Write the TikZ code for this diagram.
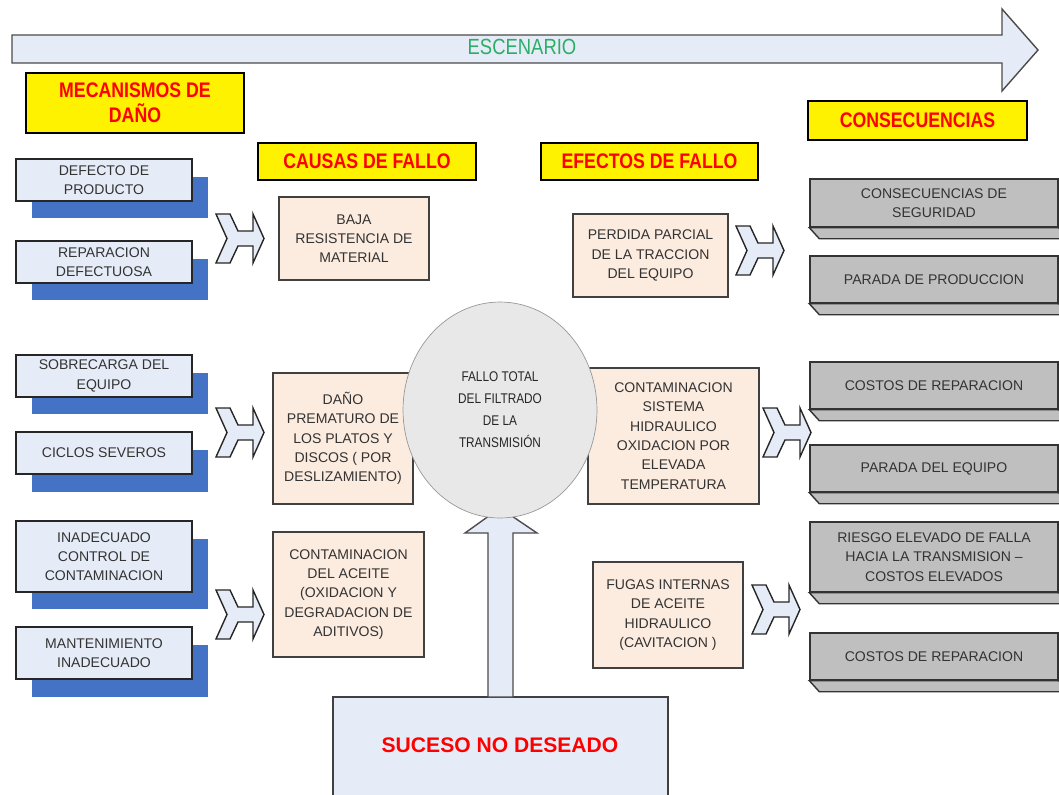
\documentclass[tikz,border=0pt]{standalone}
\usepackage{fontspec}
\setmainfont{Liberation Sans}
\newfontfamily\narrowfont[FakeStretch=0.84]{Liberation Sans}
\usetikzlibrary{shapes.geometric,shadows}

\definecolor{boxblue}{HTML}{E6ECF7}
\definecolor{shadowblue}{HTML}{4472C4}
\definecolor{peach}{HTML}{FCEBDF}
\definecolor{boxgray}{HTML}{BFBFBF}
\definecolor{ringgray}{HTML}{E8E8E8}
\definecolor{scenegreen}{HTML}{2BAE66}
\definecolor{txtgray}{HTML}{333333}

\newcommand{\boxfont}{\fontsize{8}{11}\selectfont}

\tikzset{
  header/.style={draw=black, line width=1.6pt, fill=yellow, text=red, align=center,
    inner sep=0pt, font=\narrowfont\bfseries\fontsize{12}{14}\selectfont},
  mech/.style={draw=black!85, line width=0.8pt, fill=boxblue, text=txtgray, align=center,
    inner sep=0pt, minimum width=3.52cm, font=\boxfont,
    general shadow={fill=shadowblue, shadow xshift=0.32cm, shadow yshift=-0.35cm}},
  cause/.style={draw=black!75, line width=0.8pt, fill=peach, text=txtgray, align=center,
    inner sep=0pt, font=\boxfont},
  conseq/.style={draw=black!80, line width=0.8pt, fill=boxgray, text=txtgray, align=center,
    inner sep=0pt, minimum width=4.96cm, font=\boxfont},
  bevel/.style={draw=black!80, line width=0.8pt, fill=boxgray},
  chevron/.style={draw=black!85, line width=0.8pt, fill=boxblue},
  blockarrow/.style={draw=black!70, line width=0.8pt, fill=boxblue},
}

% notched block arrow, top left corner at (#1,#2)
\newcommand{\blockchev}[2]{%
  \draw[chevron, shift={(#1,#2)}] (0,0) -- (14,0) -- (22,17) -- (37,17) -- (37,0)
    -- (48,24.5) -- (37,49) -- (37,32) -- (22,32) -- (14,49) -- (0,49) -- (11,24.5) -- cycle;}

\begin{document}
\begin{tikzpicture}[x=0.02cm, y=-0.02cm]
\useasboundingbox (0,0) rectangle (1059,795);

% scenario arrow
\draw[blockarrow] (12,35) -- (1002,35) -- (1002,9) -- (1038,50) -- (1002,91) -- (1002,63) -- (12,63) -- cycle;
\node[text=scenegreen, font=\narrowfont\fontsize{12.5}{14}\selectfont] (escenario) at (522,47) {ESCENARIO};

% column titles
\node[header, minimum width=4.36cm, minimum height=1.2cm] (mecanismos) at (135,103) {MECANISMOS DE\\DAÑO};
\node[header, minimum width=4.36cm, minimum height=0.74cm] (causas) at (367,161.5) {CAUSAS DE FALLO};
\node[header, minimum width=4.34cm, minimum height=0.74cm] (efectos) at (649.5,161.5) {EFECTOS DE FALLO};
\node[header, minimum width=4.38cm, minimum height=0.78cm] (consecuencias) at (917.5,120.5) {CONSECUENCIAS};

% damage mechanisms
\node[mech, minimum height=0.84cm] (defecto) at (104,180) {DEFECTO DE\\PRODUCTO};
\node[mech, minimum height=0.84cm] (reparacion) at (104,262) {REPARACION\\DEFECTUOSA};
\node[mech, minimum height=0.84cm] (sobrecarga) at (104,376) {SOBRECARGA DEL\\EQUIPO};
\node[mech, minimum height=0.84cm] (ciclos) at (104,453) {CICLOS SEVEROS};
\node[mech, minimum height=1.42cm] (control) at (104,556.5) {INADECUADO\\CONTROL DE\\CONTAMINACION};
\node[mech, minimum height=1.04cm] (mantenimiento) at (104,653) {MANTENIMIENTO\\INADECUADO};

\blockchev{216}{214}
\blockchev{216}{408}
\blockchev{216}{590}

% failure causes
\node[cause, minimum width=3.0cm, minimum height=1.66cm] (baja) at (354,238.5) {BAJA\\RESISTENCIA DE\\MATERIAL};
\node[cause, minimum width=2.8cm, minimum height=2.62cm] (dano) at (343,438.5) {DAÑO\\PREMATURO DE\\LOS PLATOS Y\\DISCOS ( POR\\DESLIZAMIENTO)};
\node[cause, minimum width=3.02cm, minimum height=2.5cm] (aceite) at (348.5,594.5) {CONTAMINACION\\DEL ACEITE\\(OXIDACION Y\\DEGRADACION DE\\ADITIVOS)};

% failure effects
\node[cause, minimum width=3.1cm, minimum height=1.66cm] (perdida) at (650.5,255.5) {PERDIDA PARCIAL\\DE LA TRACCION\\DEL EQUIPO};
\node[cause, minimum width=3.42cm, minimum height=2.72cm] (hidraulico) at (673.5,436) {CONTAMINACION\\SISTEMA\\HIDRAULICO\\OXIDACION POR\\ELEVADA\\TEMPERATURA};
\node[cause, minimum width=3.0cm, minimum height=2.12cm] (fugas) at (668,615) {FUGAS INTERNAS\\DE ACEITE\\HIDRAULICO\\(CAVITACION )};

\blockchev{736}{226}
\blockchev{763}{408}
\blockchev{752}{585}

% consequences
\node[conseq, minimum height=0.96cm] (seguridad) at (934,203) {CONSECUENCIAS DE\\SEGURIDAD};
\node[conseq, minimum height=0.94cm] (produccion) at (934,279.5) {PARADA DE PRODUCCION};
\node[conseq, minimum height=0.94cm] (costos) at (934,385.5) {COSTOS DE REPARACION};
\node[conseq, minimum height=0.94cm] (paradaeq) at (934,468.5) {PARADA DEL EQUIPO};
\node[conseq, minimum height=1.4cm] (riesgo) at (934,557) {RIESGO ELEVADO DE FALLA\\HACIA LA TRANSMISION --\\COSTOS ELEVADOS};
\node[conseq, minimum height=0.94cm] (costosb) at (934,656.5) {COSTOS DE REPARACION};
\foreach \n in {seguridad,produccion,costos,paradaeq,riesgo,costosb}
  \draw[bevel] (\n.south west) -- (\n.south east) -- ([shift={(10,11)}]\n.south east)
    -- ([shift={(10,11)}]\n.south west) -- cycle;

% undesired event and arrow up to the failure
\node[draw=black!75, line width=0.8pt, fill=boxblue, minimum width=6.7cm, minimum height=2.16cm] (suceso) at (500.5,751) {};
\node[text=red, font=\bfseries\fontsize{12}{14}\selectfont] (sucesotxt) at (500,745) {SUCESO NO DESEADO};
\draw[blockarrow] (488,697) -- (488,533) -- (465,533) -- (500,508) -- (537,533) -- (513,533) -- (513,697) -- cycle;

\node[ellipse, draw=black!40, fill=ringgray, minimum width=3.88cm, minimum height=4.32cm, inner sep=0pt,
  align=center, text=black!85, font=\narrowfont\fontsize{8}{12.5}\selectfont] (fallo) at (500,410)
  {FALLO TOTAL\\DEL FILTRADO\\DE LA\\TRANSMISIÓN};
\end{tikzpicture}
\end{document}
